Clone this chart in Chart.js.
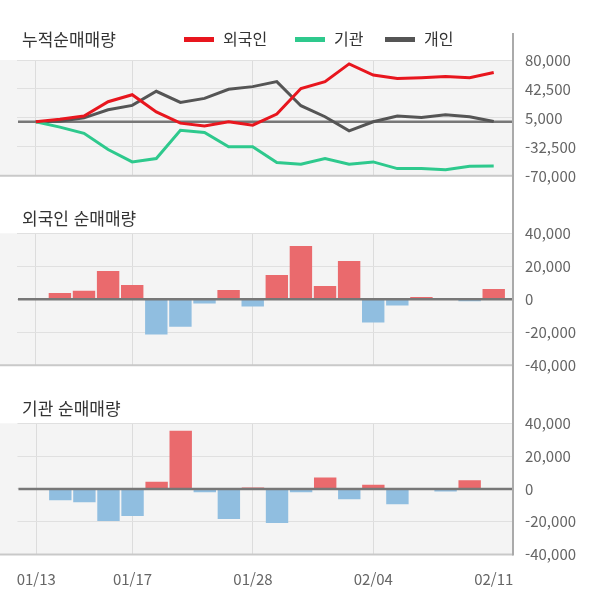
<!DOCTYPE html>
<html lang="ko">
<head>
<meta charset="utf-8">
<script src="https://cdn.jsdelivr.net/npm/chart.js@4/dist/chart.umd.min.js"></script>
<style>
  body { margin: 0; width: 600px; height: 604px; position: relative; background: #fff;
         font-family: "Noto Sans CJK KR", "Noto Sans", sans-serif; overflow: hidden; }
  .box { position: absolute; left: 0; width: 600px; }
  .title { position: absolute; left: 22px; font-size: 17px; color: #333; line-height: 20px; }
  .legend { position: absolute; top: 28px; left: 184px; font-size: 16px; color: #333; line-height: 20px; }
  .legend span.item { position: absolute; white-space: nowrap; }
  .legend i { display: inline-block; width: 30px; height: 5px; vertical-align: middle;
              margin-right: 9px; position: relative; top: -1px; }
</style>
</head>
<body>
<div class="box" style="top:0;height:200px"><canvas id="cumChart" width="600" height="200"></canvas></div>
<div class="box" style="top:200px;height:190px"><canvas id="foreignChart" width="600" height="190"></canvas></div>
<div class="box" style="top:390px;height:214px"><canvas id="instChart" width="600" height="214"></canvas></div>

<div class="title" style="top:29px">누적순매매량</div>
<div class="title" style="top:208px">외국인 순매매량</div>
<div class="title" style="top:398px">기관 순매매량</div>
<div class="legend">
  <span class="item" style="left:0"><i style="background:#e8161e"></i>외국인</span>
  <span class="item" style="left:111px"><i style="background:#2ec98d"></i>기관</span>
  <span class="item" style="left:201px"><i style="background:#555"></i>개인</span>
</div>

<script>
// trading days, 2020
const DATES = ['01/13', '01/14', '01/15', '01/16', '01/17', '01/20', '01/21', '01/22', '01/23', '01/28',
               '01/29', '01/30', '01/31', '02/03', '02/04', '02/05', '02/06', '02/07', '02/10', '02/11'];
const DATE_TICKS = [0, 4, 9, 14, 19];

// cumulative net buying
const FOREIGN_CUM = [0, 3200, 7500, 26000, 35000, 12800, -1800, -5500, 0, -4500,
                     10000, 43000, 52000, 75000, 60500, 56000, 57000, 58500, 57000, 63700];
const INST_CUM = [0, -6900, -15000, -36000, -52000, -47700, -11000, -14000, -32500, -32500,
                  -52900, -55000, -47700, -55000, -52000, -60700, -60700, -62000, -57600, -57200];
const INDIV_CUM = [0, 800, 5000, 15500, 21200, 39500, 25000, 30300, 42000, 45500,
                   52000, 20800, 6500, -11700, 0, 7400, 5600, 9100, 6500, 400];
const CUM_TICKS = [80000, 42500, 5000, -32500, -70000];

// daily net buying
const FOREIGN_DAILY = [null, 3800, 5200, 17200, 8700, -21400, -16600, -2600, 5600, -4400,
                       14700, 32300, 8100, 23200, -14100, -3800, 1400, 800, -1200, 6300];
const INST_DAILY = [null, -6900, -8100, -19600, -16600, 4400, 35400, -2000, -18400, 800,
                    -20800, -2000, 6900, -6300, 2600, -9300, 0, -1600, 5200, 0];
const DAILY_TICKS = [40000, 20000, 0, -20000, -40000];

const RED = '#e8161e', GREEN = '#2ec98d', DARK = '#555555';
const BAR_UP = '#ea6a6d', BAR_DOWN = '#90bee0';

// background, bottom rule, zero line, right axis line
const framePlugin = {
    id: 'frame',
    beforeDraw(chart, args, opts) {
        const { ctx, chartArea: a } = chart;
        ctx.save();
        ctx.fillStyle = '#f4f4f4';
        ctx.fillRect(0, a.top, a.right, a.bottom - a.top);
        ctx.restore();
    },
    beforeDatasetsDraw(chart, args, opts) {
        if (!opts.zeroOnTop) drawZero(chart);
    },
    afterDatasetsDraw(chart, args, opts) {
        if (opts.zeroOnTop) drawZero(chart);
        const { ctx, chartArea: a } = chart;
        ctx.save();
        ctx.strokeStyle = '#c9c9c9';
        ctx.lineWidth = 2;
        ctx.beginPath();
        ctx.moveTo(0, a.bottom);
        ctx.lineTo(a.right, a.bottom);
        ctx.stroke();
        ctx.strokeStyle = '#aaaaaa';
        ctx.beginPath();
        ctx.moveTo(a.right, opts.axisFrom);
        ctx.lineTo(a.right, opts.axisTo === 'bottom' ? a.bottom + 1 : chart.height);
        ctx.stroke();
        ctx.restore();
    }
};

function drawZero(chart) {
    const { ctx, chartArea: a } = chart;
    const y = chart.scales.y.getPixelForValue(0);
    ctx.save();
    ctx.strokeStyle = '#777777';
    ctx.lineWidth = 2.5;
    ctx.beginPath();
    ctx.moveTo(a.left + 1, y);
    ctx.lineTo(a.right, y);
    ctx.stroke();
    ctx.restore();
}

function xScale(showLabels) {
    return {
        type: 'linear',
        min: -0.78,
        max: 19.8,
        offset: false,
        afterBuildTicks: scale => { scale.ticks = DATE_TICKS.map(v => ({ value: v })); },
        afterFit: scale => { scale.height = showLabels ? 49.5 : 0; },
        border: { display: false },
        grid: {
            offset: false,
            drawTicks: false,
            color: c => (c.tick && c.tick.value === 19 ? 'rgba(0,0,0,0)' : '#dcdcdc')
        },
        ticks: {
            display: showLabels,
            padding: 16,
            maxRotation: 0,
            color: '#666',
            font: { family: '"Noto Sans CJK KR", "Noto Sans", sans-serif', size: 15 },
            callback: v => DATES[v]
        }
    };
}

function yScale(min, max, tickList) {
    return {
        position: 'right',
        min: min,
        max: max,
        afterBuildTicks: scale => { scale.ticks = tickList.map(v => ({ value: v })); },
        afterFit: scale => { scale.width = 87; },
        border: { display: false },
        grid: { drawTicks: false, color: '#e0e0e0' },
        ticks: {
            padding: 12,
            color: '#666',
            font: { family: '"Noto Sans CJK KR", "Noto Sans", sans-serif', size: 15 },
            callback: v => v.toLocaleString('en-US')
        }
    };
}

function baseOptions(padding, frame) {
    return {
        responsive: false,
        animation: false,
        devicePixelRatio: 1,
        layout: { padding: padding },
        plugins: { legend: { display: false }, tooltip: { enabled: false }, frame: frame },
        events: []
    };
}

const toPoints = arr => arr.map((v, i) => ({ x: i, y: v }));

function lineSet(label, data, color) {
    return {
        label: label,
        data: toPoints(data),
        borderColor: color,
        borderWidth: 3,
        pointRadius: 0,
        tension: 0,
        fill: false
    };
}

function initCharts() {
    const cumOpts = baseOptions({ top: 60, bottom: 24.2, left: 17, right: 0 },
        { zeroOnTop: false, axisFrom: 33, axisTo: 'end' });
    cumOpts.scales = { x: xScale(false), y: yScale(-70000, 80000, CUM_TICKS) };
    new Chart(document.getElementById('cumChart'), {
        type: 'line',
        data: {
            datasets: [
                lineSet('외국인', FOREIGN_CUM, RED),
                lineSet('기관', INST_CUM, GREEN),
                lineSet('개인', INDIV_CUM, DARK)
            ]
        },
        options: cumOpts,
        plugins: [framePlugin]
    });

    const barChart = (id, values, padding, frame, showLabels) => {
        const opts = baseOptions(padding, frame);
        opts.scales = { x: xScale(showLabels), y: yScale(-40000, 40000, DAILY_TICKS) };
        return new Chart(document.getElementById(id), {
            type: 'bar',
            data: {
                datasets: [{
                    data: toPoints(values),
                    backgroundColor: c => (c.parsed && c.parsed.y < 0 ? BAR_DOWN : BAR_UP),
                    borderWidth: 0,
                    categoryPercentage: 1,
                    barPercentage: 0.93
                }]
            },
            options: opts,
            plugins: [framePlugin]
        });
    };

    barChart('foreignChart', FOREIGN_DAILY, { top: 33.3, bottom: 24.7, left: 17, right: 0 },
        { zeroOnTop: true, axisFrom: 0, axisTo: 'end' }, false);
    barChart('instChart', INST_DAILY, { top: 33.3, bottom: 0, left: 17, right: 0 },
        { zeroOnTop: true, axisFrom: 0, axisTo: 'bottom' }, true);
}

initCharts();
</script>
</body>
</html>
